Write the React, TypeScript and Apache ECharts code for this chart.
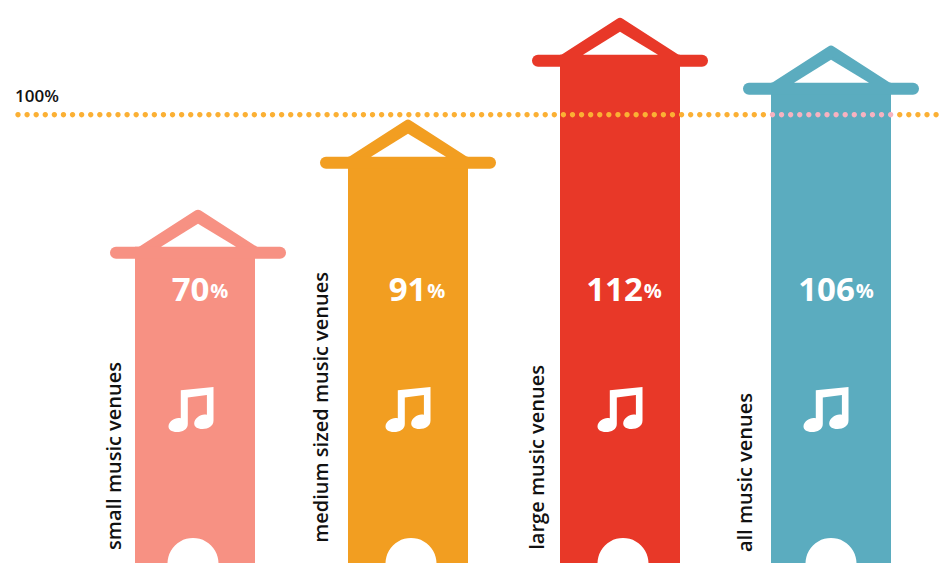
import React, { useEffect, useRef } from "react";
import * as echarts from "echarts";

// Data
const categories = ["small music venues", "medium sized music venues", "large music venues", "all music venues"];
const categoryLabels = ["small music venues", "medium sized music venues", "large music venues", "all music venues"];
const barLevels = [69.2, 89.3, 112, 105.8];
const percentLabels = ["70", "91", "112", "106"];
const referenceLevel = 100;
const referenceLabel = "100%";

// Styling
const colors = ["#F79183", "#F29E21", "#E83828", "#5BACBF"];
const dotColor = "#FBB034";
const dotOverBlue = "#F7B2C0";
const FONT = "'Open Sans', sans-serif";
const BAR_W = 120;
const roofShift = [3, 1, 1, 0];
const barShift = [0, 1, 1, 0];
const percentShift = [5, 9, 4, 5];
const iconShift = [-4, 0, 0, -5];
const holeShift = [-2, 3, 3, 0];
const nameX = [113, 320, 536, 744];
const nameTop = [362, 272, 365, 393];

const NOTE =
  "M12.3 3.3 L45 0 L45 33.5 C45 39 40 42 34 42 C28.5 42 25.7 39.5 25.7 36.5 C25.7 31.5 31.5 27.5 36 27.5 C37 27.5 37.8 27.6 38.4 27.8 L38.4 8 L19.3 10.5 L19.3 37 C19.3 42.5 14 45 8.5 45 C3 45 0 42.5 0 39.5 C0 35 5.5 31 10 31 C11 31 11.8 31.1 12.3 31.3 Z";

function renderBar(params: any, api: any) {
  const i = params.dataIndex;
  const p = api.coord([api.value(0), api.value(1)]);
  const y = p[1];
  const cx = p[0] + barShift[i];
  const rx = p[0] + roofShift[i];
  const color = colors[i];
  const H = 563;
  const children: any[] = [
    { type: "rect", shape: { x: Math.round(cx - BAR_W / 2), y: y - 6, width: BAR_W, height: H - y + 6 }, style: { fill: color } },
    {
      type: "polygon",
      shape: { points: [[rx - 59, y], [rx, y - 38], [rx + 59, y]] },
      style: { fill: color, stroke: color, lineWidth: 10, lineJoin: "round" },
    },
    {
      type: "line",
      shape: { x1: rx - 82, y1: y, x2: rx + 82, y2: y },
      style: { stroke: color, lineWidth: 12, lineCap: "round" },
    },
    {
      type: "polygon",
      shape: { points: [[rx - 37, y - 6], [rx, y - 29], [rx + 38, y - 6]] },
      style: { fill: "#ffffff" },
    },
    {
      type: "text",
      x: cx + percentShift[i],
      y: 288,
      style: {
        text: `{a|${percentLabels[i]}}{b|%}`,
        align: "center",
        verticalAlign: "middle",
        fill: "#ffffff",
        rich: {
          a: { fontFamily: FONT, fontWeight: 700, fontSize: 33, fill: "#ffffff" },
          b: { fontFamily: FONT, fontWeight: 700, fontSize: 20, fill: "#ffffff", padding: [5, 0, 0, 1] },
        },
      },
    },
    {
      type: "path",
      shape: { pathData: NOTE, x: cx + iconShift[i] - 23, y: 387, width: 46, height: 45 },
      style: { fill: "#ffffff" },
    },
    { type: "circle", shape: { cx: cx + holeShift[i], cy: 563.5, r: 25.5 }, style: { fill: "#ffffff" } },
    {
      type: "text",
      x: nameX[i],
      y: nameTop[i],
      rotation: Math.PI / 2,
      style: {
        text: categoryLabels[i],
        align: "right",
        verticalAlign: "middle",
        fontFamily: FONT,
        fontWeight: 600,
        fontSize: 20,
        fill: "#111111",
      },
    },
  ];
  return { type: "group", children };
}

function renderDots(_params: any, api: any) {
  const y = api.coord([0, api.value(1)])[1];
  const blueCentre = api.coord([categories.length - 1, referenceLevel])[0];
  const children: any[] = [];
  for (let x = 18; x < 945; x += 9.09) {
    const over = x > blueCentre - BAR_W / 2 && x < blueCentre + BAR_W / 2;
    children.push({
      type: "circle",
      shape: { cx: x, cy: y, r: 2.7 },
      style: { fill: over ? dotOverBlue : dotColor },
    });
  }
  children.push({
    type: "text",
    x: 15,
    y: y - 19,
    style: {
      text: referenceLabel,
      align: "left",
      verticalAlign: "middle",
      fontFamily: FONT,
      fontWeight: 600,
      fontSize: 17,
      fill: "#111111",
    },
  });
  return { type: "group", children };
}

export default function App() {
  const ref = useRef<HTMLDivElement>(null);
  useEffect(() => {
    const chart = echarts.init(ref.current!, null, { renderer: "svg" });
    chart.setOption({
      animation: false,
      backgroundColor: "#ffffff",
      grid: { left: 89, top: 25, width: 848, height: 560 },
      xAxis: { type: "category", data: categories, show: false },
      yAxis: { type: "value", min: 0, max: 120, show: false },
      series: [
        {
          type: "custom",
          silent: true,
          clip: false,
          z: 2,
          renderItem: renderBar,
          encode: { x: 0, y: 1 },
          data: barLevels.map((v, i) => [i, v]),
        },
        {
          type: "custom",
          silent: true,
          clip: false,
          z: 3,
          renderItem: renderDots,
          encode: { x: 0, y: 1 },
          data: [[0, referenceLevel]],
        },
      ],
    });
    return () => chart.dispose();
  }, []);
  return <div ref={ref} style={{ position: "fixed", left: 0, top: 0, width: 941, height: 563 }} />;
}
